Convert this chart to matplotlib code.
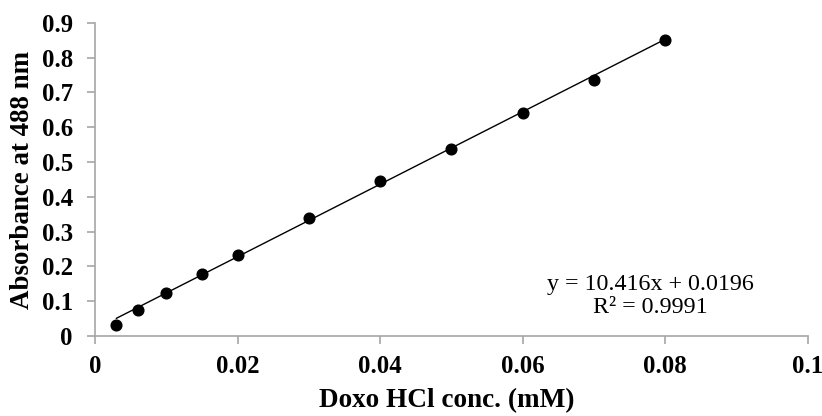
import matplotlib
matplotlib.use('Agg')
import matplotlib.pyplot as plt
import numpy as np

# calibration points: doxorubicin HCl concentration vs absorbance
conc = [0.003, 0.006, 0.01, 0.015, 0.02, 0.03, 0.04, 0.05, 0.06, 0.07, 0.08]
absorbance = [0.033, 0.076, 0.124, 0.179, 0.234, 0.339, 0.445, 0.538, 0.642, 0.736, 0.851]

# linear fit reported on the chart
slope = 10.416
intercept = 0.0196
r2 = 0.9991

xticks = [0, 0.02, 0.04, 0.06, 0.08, 0.1]
xticklabels = ['0', '0.02', '0.04', '0.06', '0.08', '0.1']
yticks = [0, 0.1, 0.2, 0.3, 0.4, 0.5, 0.6, 0.7, 0.8, 0.9]
yticklabels = ['0', '0.1', '0.2', '0.3', '0.4', '0.5', '0.6', '0.7', '0.8', '0.9']

plt.rcParams['font.family'] = ['Liberation Serif', 'DejaVu Serif']
axis_grey = '#a6a6a6'

fig = plt.figure(figsize=(8.22, 4.16), dpi=100)
ax = fig.add_axes([0.1156, 0.1923, 0.867, 0.7527])

xfit = np.array([min(conc), max(conc)])
ax.plot(xfit, slope * xfit + intercept, color='black', linewidth=1.0, zorder=2)
ax.plot(conc, absorbance, 'o', color='black', markersize=7.7, zorder=3)

ax.set_xlim(0, 0.1)
ax.set_ylim(0, 0.9)
ax.set_xticks(xticks)
ax.set_xticklabels(xticklabels, fontsize=17.8, fontweight='bold')
ax.set_yticks(yticks)
ax.set_yticklabels(yticklabels, fontsize=17.8, fontweight='bold')

for side in ['top', 'right']:
    ax.spines[side].set_visible(False)
for side in ['left', 'bottom']:
    ax.spines[side].set_color(axis_grey)
    ax.spines[side].set_linewidth(1.2)
ax.tick_params(axis='both', direction='out', length=5.5, width=1.2, color=axis_grey)
ax.tick_params(axis='x', pad=8)
ax.tick_params(axis='y', pad=10.5)

ax.set_xlabel('Doxo HCl conc. (mM)', fontsize=19.6, fontweight='bold', labelpad=8)
ax.xaxis.set_label_coords(0.493, -0.165)
ax.set_ylabel('Absorbance at 488 nm', fontsize=19.4, fontweight='bold', labelpad=5)

ax.text(0.0779, 0.115, 'y = 10.416x + 0.0196\nR\u00b2 = 0.9991',
        ha='center', va='center', fontsize=17.3, linespacing=1.1)

fig.savefig('out.png', dpi=100)
